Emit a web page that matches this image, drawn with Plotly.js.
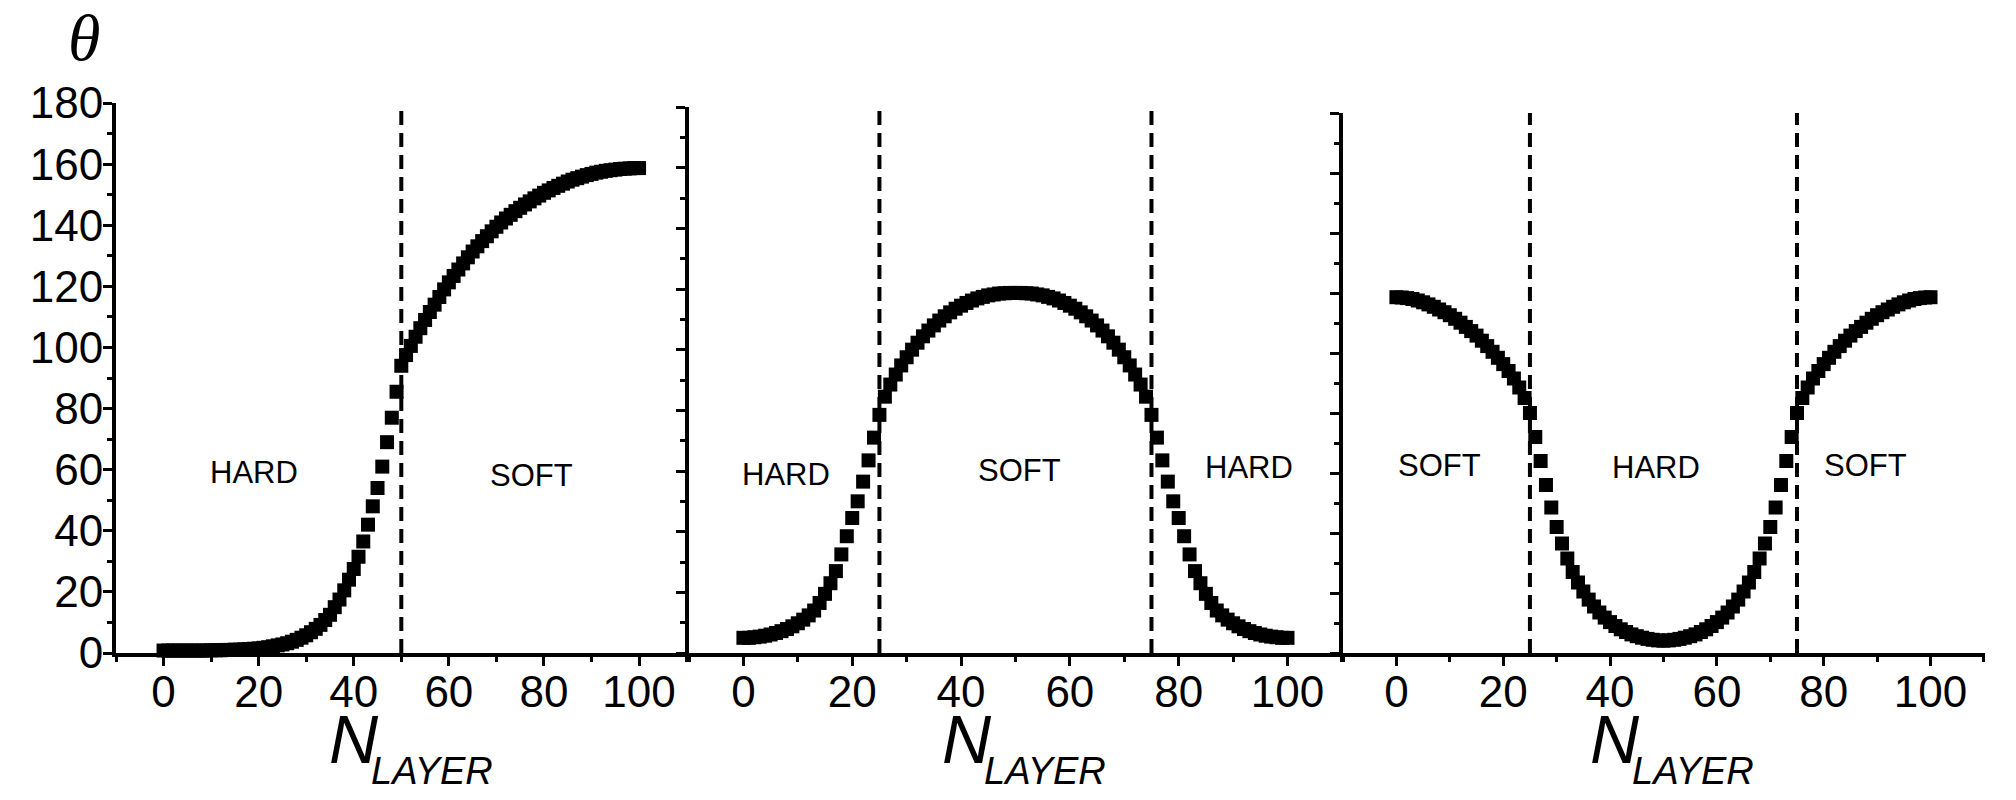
<!DOCTYPE html>
<html>
<head>
<meta charset="utf-8">
<script src="https://cdn.plot.ly/plotly-3.0.1.min.js"></script>
<style>
  html, body { margin: 0; padding: 0; background: #fff; }
  #chart { width: 2016px; height: 800px; }
</style>
</head>
<body>
<div id="chart"></div>
<script>
// ---------------- data ----------------
const nLayer = [0,1,2,3,4,5,6,7,8,9,10,11,12,13,14,15,16,17,18,19,20,21,22,23,24,25,26,27,28,29,30,31,32,33,34,35,36,37,38,39,40,41,42,43,44,45,46,47,48,49,50,51,52,53,54,55,56,57,58,59,60,61,62,63,64,65,66,67,68,69,70,71,72,73,74,75,76,77,78,79,80,81,82,83,84,85,86,87,88,89,90,91,92,93,94,95,96,97,98,99,100];

const thetaPanel1 = [
  0.8,0.8,0.8,0.8,0.8,0.8,0.8,0.8,0.8,0.8,
  0.9,0.9,0.9,1.0,1.0,1.1,1.1,1.2,1.3,1.4,
  1.5,1.7,1.9,2.2,2.5,2.8,3.2,3.7,4.3,5.0,
  5.8,6.8,7.9,9.2,10.8,12.5,15.0,17.5,20.5,24.0,
  27.5,31.5,36.5,42.0,48.0,54.0,61.0,69.0,77.0,85.5,
  94.0,97.5,100.5,103.5,106.3,109.0,111.6,114.0,116.5,119.0,
  121.3,123.4,125.5,127.5,129.5,131.4,133.1,134.8,136.4,138.0,
  139.5,140.9,142.2,143.4,144.6,145.7,146.8,147.8,148.8,149.7,
  150.6,151.4,152.2,152.9,153.6,154.3,154.9,155.4,155.9,156.4,
  156.8,157.2,157.5,157.8,158.0,158.2,158.4,158.5,158.6,158.7,
  158.7
];

const thetaPanel2 = [
  5.0,5.0,5.2,5.4,5.7,6.1,6.6,7.2,7.9,8.8,
  9.8,11.0,12.4,14.0,16.5,19.5,23.0,27.0,32.5,38.5,
  44.5,50.0,56.5,63.5,71.0,78.5,84.5,88.5,91.8,94.8,
  97.5,100.0,102.3,104.4,106.3,108.0,109.6,111.0,112.3,113.5,
  114.5,115.4,116.2,116.9,117.4,117.9,118.2,118.5,118.6,118.7,
  118.7,
  118.7,118.6,118.5,118.2,117.9,117.4,116.9,116.2,115.4,114.5,
  113.5,112.3,111.0,109.6,108.0,106.3,104.4,102.3,100.0,97.5,
  94.8,91.8,88.5,84.5,78.5,71.0,63.5,56.5,50.0,44.5,
  38.5,32.5,27.0,23.0,19.5,16.5,14.0,12.4,11.0,9.8,
  8.8,7.9,7.2,6.6,6.1,5.7,5.4,5.2,5.0,5.0
];

const thetaPanel3 = [
  118.6,118.5,118.3,118.0,117.5,116.9,116.2,115.4,114.5,113.6,
  112.6,111.4,110.1,108.7,107.3,105.8,104.1,102.3,100.4,98.4,
  96.3,94.0,91.5,88.5,85.0,80.0,72.0,64.0,56.0,48.5,
  42.0,36.5,31.5,27.0,23.5,20.5,17.8,15.5,13.5,11.8,
  10.3,9.0,7.9,7.0,6.2,5.6,5.1,4.7,4.4,4.2,
  4.1,
  4.2,4.4,4.7,5.1,5.6,6.2,7.0,7.9,9.0,10.3,
  11.8,13.5,15.5,17.8,20.5,23.5,27.0,31.5,36.5,42.0,
  48.5,56.0,64.0,72.0,80.0,85.0,88.5,91.5,94.0,96.3,
  98.4,100.4,102.3,104.1,105.8,107.3,108.7,110.1,111.4,112.6,
  113.6,114.5,115.4,116.2,116.9,117.5,118.0,118.3,118.5,118.6
];

const boundaries1 = [50];
const boundaries2 = [25, 75];
const boundaries3 = [25, 75];

const regions1 = ['HARD', 'SOFT'];
const regions2 = ['HARD', 'SOFT', 'HARD'];
const regions3 = ['SOFT', 'HARD', 'SOFT'];

const xTickVals = [0, 20, 40, 60, 80, 100];
const yTickVals = [0, 20, 40, 60, 80, 100, 120, 140, 160, 180];
const yLabel = 'θ';
const xLabelMain = 'N';
const xLabelSub = 'LAYER';

// ---------------- layout helpers ----------------
const W = 2016, H = 800;
const px = v => v / W;
const py = v => 1 - v / H;

const tickFont = { family: '"Liberation Sans", Arial, sans-serif', size: 44, color: '#000' };
const labelFont = { family: '"Liberation Sans", Arial, sans-serif', size: 31, color: '#000' };

const panels = [
  { x0: 116, x1: 689, top: 103, xr: [-10, 110.5], theta: thetaPanel1, bounds: boundaries1, regions: regions1,
    regionPos: [[19, 59], [77.3, 58]], showY: true },
  { x0: 689, x1: 1343, top: 107, xr: [-10, 110.2], theta: thetaPanel2, bounds: boundaries2, regions: regions2,
    regionPos: [[7.8, 59], [50.7, 60.3], [92.9, 61]], showY: false },
  { x0: 1343, x1: 1985, top: 113, xr: [-10, 110.2], theta: thetaPanel3, bounds: boundaries3, regions: regions3,
    regionPos: [[8, 62.5], [48.6, 62], [87.9, 62.5]], showY: false }
];
const bottom = 653;

const data = [];
const layout = {
  width: W, height: H,
  margin: { l: 0, r: 0, t: 0, b: 0, pad: 0 },
  paper_bgcolor: '#fff', plot_bgcolor: 'rgba(0,0,0,0)',
  showlegend: false,
  shapes: [], annotations: []
};

panels.forEach((p, i) => {
  const k = i === 0 ? '' : String(i + 1);
  const xa = 'x' + k, ya = 'y' + k;
  data.push({
    type: 'scatter', mode: 'markers',
    x: nLayer, y: p.theta, xaxis: xa, yaxis: ya,
    cliponaxis: false,
    marker: { symbol: 'square', size: 14, color: '#000', line: { width: 0 } },
    hoverinfo: 'skip'
  });
  layout['xaxis' + k] = {
    domain: [px(p.x0), px(p.x1)], range: p.xr, anchor: ya,
    showline: true, linewidth: 4, linecolor: '#000', mirror: false,
    ticks: 'outside', ticklen: 9, tickwidth: 3, tickcolor: '#000',
    tickvals: xTickVals, ticktext: xTickVals.map(String),
    ticklabelstandoff: -12,
    minor: { dtick: 10, tick0: 0, ticks: 'outside', ticklen: 5, tickwidth: 3, tickcolor: '#000', showgrid: false },
    showgrid: false, zeroline: false, tickfont: tickFont,
    fixedrange: true
  };
  layout['yaxis' + k] = {
    domain: [py(bottom), py(p.top)], range: [0, 180], anchor: xa,
    showline: true, linewidth: 4, linecolor: '#000',
    ticks: 'outside', ticklen: 9, tickwidth: 3, tickcolor: '#000',
    tickvals: yTickVals, ticktext: yTickVals.map(String),
    showticklabels: p.showY,
    ticklabelstandoff: -9,
    minor: { dtick: 10, tick0: 0, ticks: 'outside', ticklen: 5, tickwidth: 3, tickcolor: '#000', showgrid: false },
    showgrid: false, zeroline: false, tickfont: tickFont,
    fixedrange: true
  };
  p.bounds.forEach(b => {
    layout.shapes.push({
      type: 'line', xref: xa, yref: ya, x0: b, x1: b, y0: 0, y1: 180,
      line: { color: '#000', width: 4, dash: '14px,8px' }
    });
  });
  p.regions.forEach((txt, j) => {
    layout.annotations.push({
      xref: xa, yref: ya, x: p.regionPos[j][0], y: p.regionPos[j][1],
      text: txt, showarrow: false, font: labelFont,
      xanchor: 'center', yanchor: 'middle'
    });
  });
  // axis title "N_LAYER" centred under each panel
  const gc = (p.x0 + p.x1) / 2 + 8;
  layout.annotations.push({
    xref: 'paper', yref: 'paper', x: px(gc - 57), y: py(739),
    text: '<i>' + xLabelMain + '</i>', showarrow: false,
    font: { family: '"Liberation Sans", Arial, sans-serif', size: 68, color: '#000' },
    xanchor: 'center', yanchor: 'middle'
  });
  layout.annotations.push({
    xref: 'paper', yref: 'paper', x: px(gc + 21), y: py(771),
    text: '<i>' + xLabelSub + '</i>', showarrow: false,
    font: { family: '"Liberation Sans", Arial, sans-serif', size: 38, color: '#000' },
    xanchor: 'center', yanchor: 'middle'
  });
});

layout.annotations.push({
  xref: 'paper', yref: 'paper', x: px(84), y: py(38),
  text: '<i>' + yLabel + '</i>', showarrow: false,
  font: { family: '"Liberation Serif", "DejaVu Serif", serif', size: 66, color: '#000' },
  xanchor: 'center', yanchor: 'middle'
});

Plotly.newPlot('chart', data, layout, { displayModeBar: false, staticPlot: true });
</script>
</body>
</html>
